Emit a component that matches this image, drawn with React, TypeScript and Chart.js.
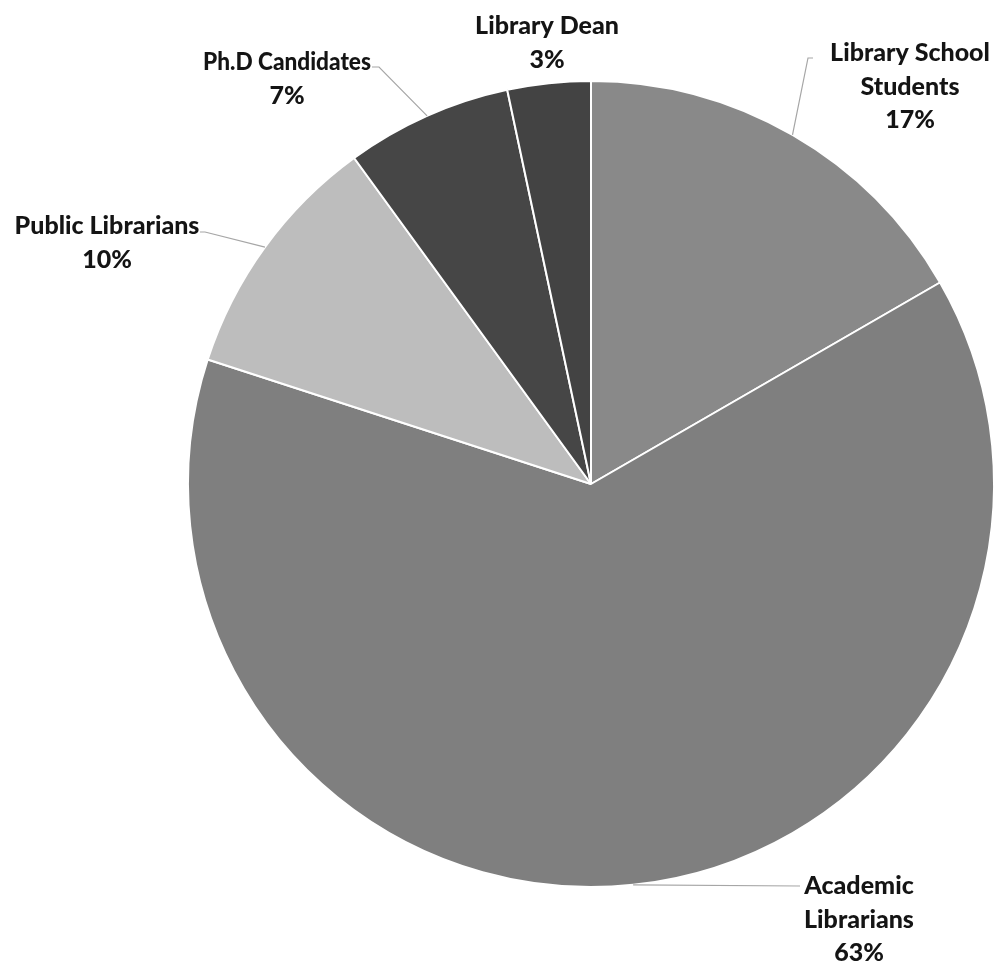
import React, { useEffect, useRef } from "react";
import { Chart, registerables } from "chart.js";

Chart.register(...registerables);

const categories = [
  "Library School Students",
  "Academic Librarians",
  "Public Librarians",
  "Ph.D Candidates",
  "Library Dean",
];
const values = [25, 95, 15, 10, 5];
const labelLines = [
  ["Library School", "Students", "17%"],
  ["Academic", "Librarians", "63%"],
  ["Public Librarians", "10%"],
  ["Ph.D Candidates", "7%"],
  ["Library Dean", "3%"],
];
const colors = ["#898989", "#7f7f7f", "#bdbdbd", "#464646", "#434343"];

// layout of labels (text center x, first line y, leader end points, max text width)
const labelLayout = [
  { x: 910, y: 53, leader: [[808, 58], [813, 58]], maxW: 200 },
  { x: 859, y: 886, leader: [[800, 886]], maxW: 200 },
  { x: 107, y: 226, leader: [[205, 232], [200, 232]], maxW: 200 },
  { x: 287, y: 62, leader: [[379, 67], [372, 67]], maxW: 168 },
  { x: 547, y: 26, leader: [] as number[][], maxW: 200 },
];

const labelPlugin = {
  id: "outsideLabels",
  afterDatasetsDraw(chart: any) {
    const ctx = chart.ctx;
    const meta = chart.getDatasetMeta(0);
    ctx.save();
    meta.data.forEach((arc: any, i: number) => {
      const p = arc.getProps(["x", "y", "startAngle", "endAngle", "outerRadius"], true);
      const mid = (p.startAngle + p.endAngle) / 2;
      const ax = p.x + Math.cos(mid) * p.outerRadius;
      const ay = p.y + Math.sin(mid) * p.outerRadius;
      const lay = labelLayout[i];
      if (lay.leader.length) {
        ctx.beginPath();
        ctx.strokeStyle = "#a6a6a6";
        ctx.lineWidth = 1.2;
        ctx.moveTo(ax, ay);
        lay.leader.forEach((pt) => ctx.lineTo(pt[0], pt[1]));
        ctx.stroke();
      }
      ctx.fillStyle = "#141414";
      ctx.font = "900 25px Lato, 'Open Sans', sans-serif";
      ctx.textAlign = "center";
      ctx.textBaseline = "middle";
      labelLines[i].forEach((line, j) => {
        ctx.fillText(line, lay.x, lay.y + j * 33.5, lay.maxW);
      });
    });
    ctx.restore();
  },
};

export default function App() {
  const ref = useRef<HTMLCanvasElement>(null);
  useEffect(() => {
    if (!ref.current) return;
    const chart = new Chart(ref.current, {
      type: "pie",
      data: {
        labels: categories,
        datasets: [
          {
            data: values,
            backgroundColor: colors,
            borderColor: "#ffffff",
            borderWidth: 2,
          },
        ],
      },
      options: {
        responsive: false,
        animation: false,
        layout: { padding: { left: 187, right: 13, top: 80, bottom: 74 } },
        plugins: {
          legend: { display: false },
          tooltip: { enabled: false },
        },
      },
      plugins: [labelPlugin],
    });
    return () => chart.destroy();
  }, []);
  return (
    <div style={{ position: "fixed", left: 0, top: 0, width: 1008, height: 962, background: "#fff" }}>
      <canvas ref={ref} width={1008} height={962} />
    </div>
  );
}
